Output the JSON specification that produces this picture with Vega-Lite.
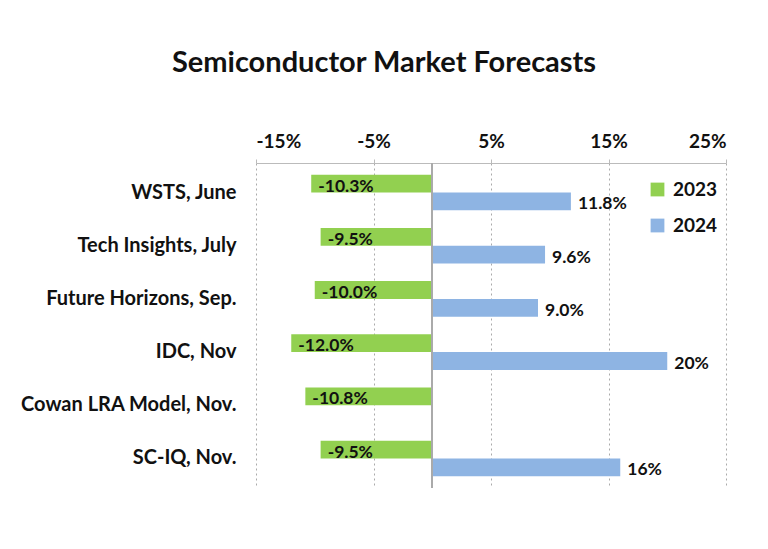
{
  "$schema": "https://vega.github.io/schema/vega-lite/v6.json",
  "width": 470,
  "height": 325,
  "autosize": {"type": "none"},
  "padding": {"left": 256, "top": 163, "right": 42, "bottom": 61},
  "background": "white",
  "config": {"view": {"stroke": null}, "font": "Lato"},
  "title": {
    "text": "Semiconductor Market Forecasts",
    "font": "Lato",
    "fontSize": 29,
    "fontWeight": "bold",
    "color": "#111111",
    "anchor": "middle",
    "dx": -107,
    "offset": 54
  },
  "data": {
    "values": [
      {"source": "WSTS, June", "year": "2023", "value": -10.3, "label": "-10.3%"},
      {"source": "WSTS, June", "year": "2024", "value": 11.8, "label": "11.8%"},
      {"source": "Tech Insights, July", "year": "2023", "value": -9.5, "label": "-9.5%"},
      {"source": "Tech Insights, July", "year": "2024", "value": 9.6, "label": "9.6%"},
      {"source": "Future Horizons, Sep.", "year": "2023", "value": -10.0, "label": "-10.0%"},
      {"source": "Future Horizons, Sep.", "year": "2024", "value": 9.0, "label": "9.0%"},
      {"source": "IDC, Nov", "year": "2023", "value": -12.0, "label": "-12.0%"},
      {"source": "IDC, Nov", "year": "2024", "value": 20.0, "label": "20%"},
      {"source": "Cowan LRA Model, Nov.", "year": "2023", "value": -10.8, "label": "-10.8%"},
      {"source": "SC-IQ, Nov.", "year": "2023", "value": -9.5, "label": "-9.5%"},
      {"source": "SC-IQ, Nov.", "year": "2024", "value": 16.0, "label": "16%"}
    ]
  },
  "encoding": {
    "y": {
      "field": "source",
      "type": "nominal",
      "sort": ["WSTS, June", "Tech Insights, July", "Future Horizons, Sep.", "IDC, Nov", "Cowan LRA Model, Nov.", "SC-IQ, Nov."],
      "scale": {"paddingInner": 0.33, "paddingOuter": 0.22},
      "axis": {
        "title": null,
        "domain": false,
        "ticks": false,
        "labelFont": "Lato",
        "labelFontSize": 20,
        "labelFontWeight": "bold",
        "labelColor": "#111111",
        "labelPadding": 20,
        "labelLimit": 300
      }
    },
    "yOffset": {"field": "year", "type": "nominal", "scale": {"paddingInner": 0, "paddingOuter": 0}},
    "x": {
      "field": "value",
      "type": "quantitative",
      "scale": {"domain": [-15, 25], "nice": false, "zero": false},
      "axis": {
        "orient": "top",
        "title": null,
        "values": [-15, -5, 5, 15, 25],
        "labelExpr": "datum.value + '%'",
        "labelFont": "Lato",
        "labelFontSize": 19,
        "labelFontWeight": "bold",
        "labelColor": "#111111",
        "labelPadding": 8,
        "domainColor": "#bbbbbb",
        "tickColor": "#bbbbbb",
        "tickSize": 4,
        "grid": true,
        "gridColor": "#aaaaaa",
        "gridDash": [2, 3],
        "gridWidth": 1
      }
    }
  },
  "layer": [
    {
      "mark": {"type": "bar"},
      "encoding": {
        "color": {
          "field": "year",
          "type": "nominal",
          "scale": {"domain": ["2023", "2024"], "range": ["#92D050", "#8EB4E3"]},
          "legend": {
            "title": null,
            "orient": "none",
            "legendX": 392,
            "legendY": 17,
            "symbolType": "square",
            "symbolSize": 190,
            "symbolStrokeWidth": 0,
            "labelFont": "Lato",
            "labelFontSize": 19,
            "labelFontWeight": "bold",
            "labelColor": "#111111",
            "rowPadding": 16,
            "labelOffset": 6
          }
        }
      }
    },
    {
      "mark": {"type": "rule", "color": "#aaaaaa", "strokeWidth": 1.5},
      "encoding": {"x": {"datum": 0}, "y": null, "yOffset": null}
    },
    {
      "mark": {"type": "text", "align": "left", "dx": 7, "dy": 3, "font": "Lato", "fontSize": 17.5, "fontWeight": "bold", "color": "#111111"},
      "encoding": {"text": {"field": "label"}}
    }
  ]
}
